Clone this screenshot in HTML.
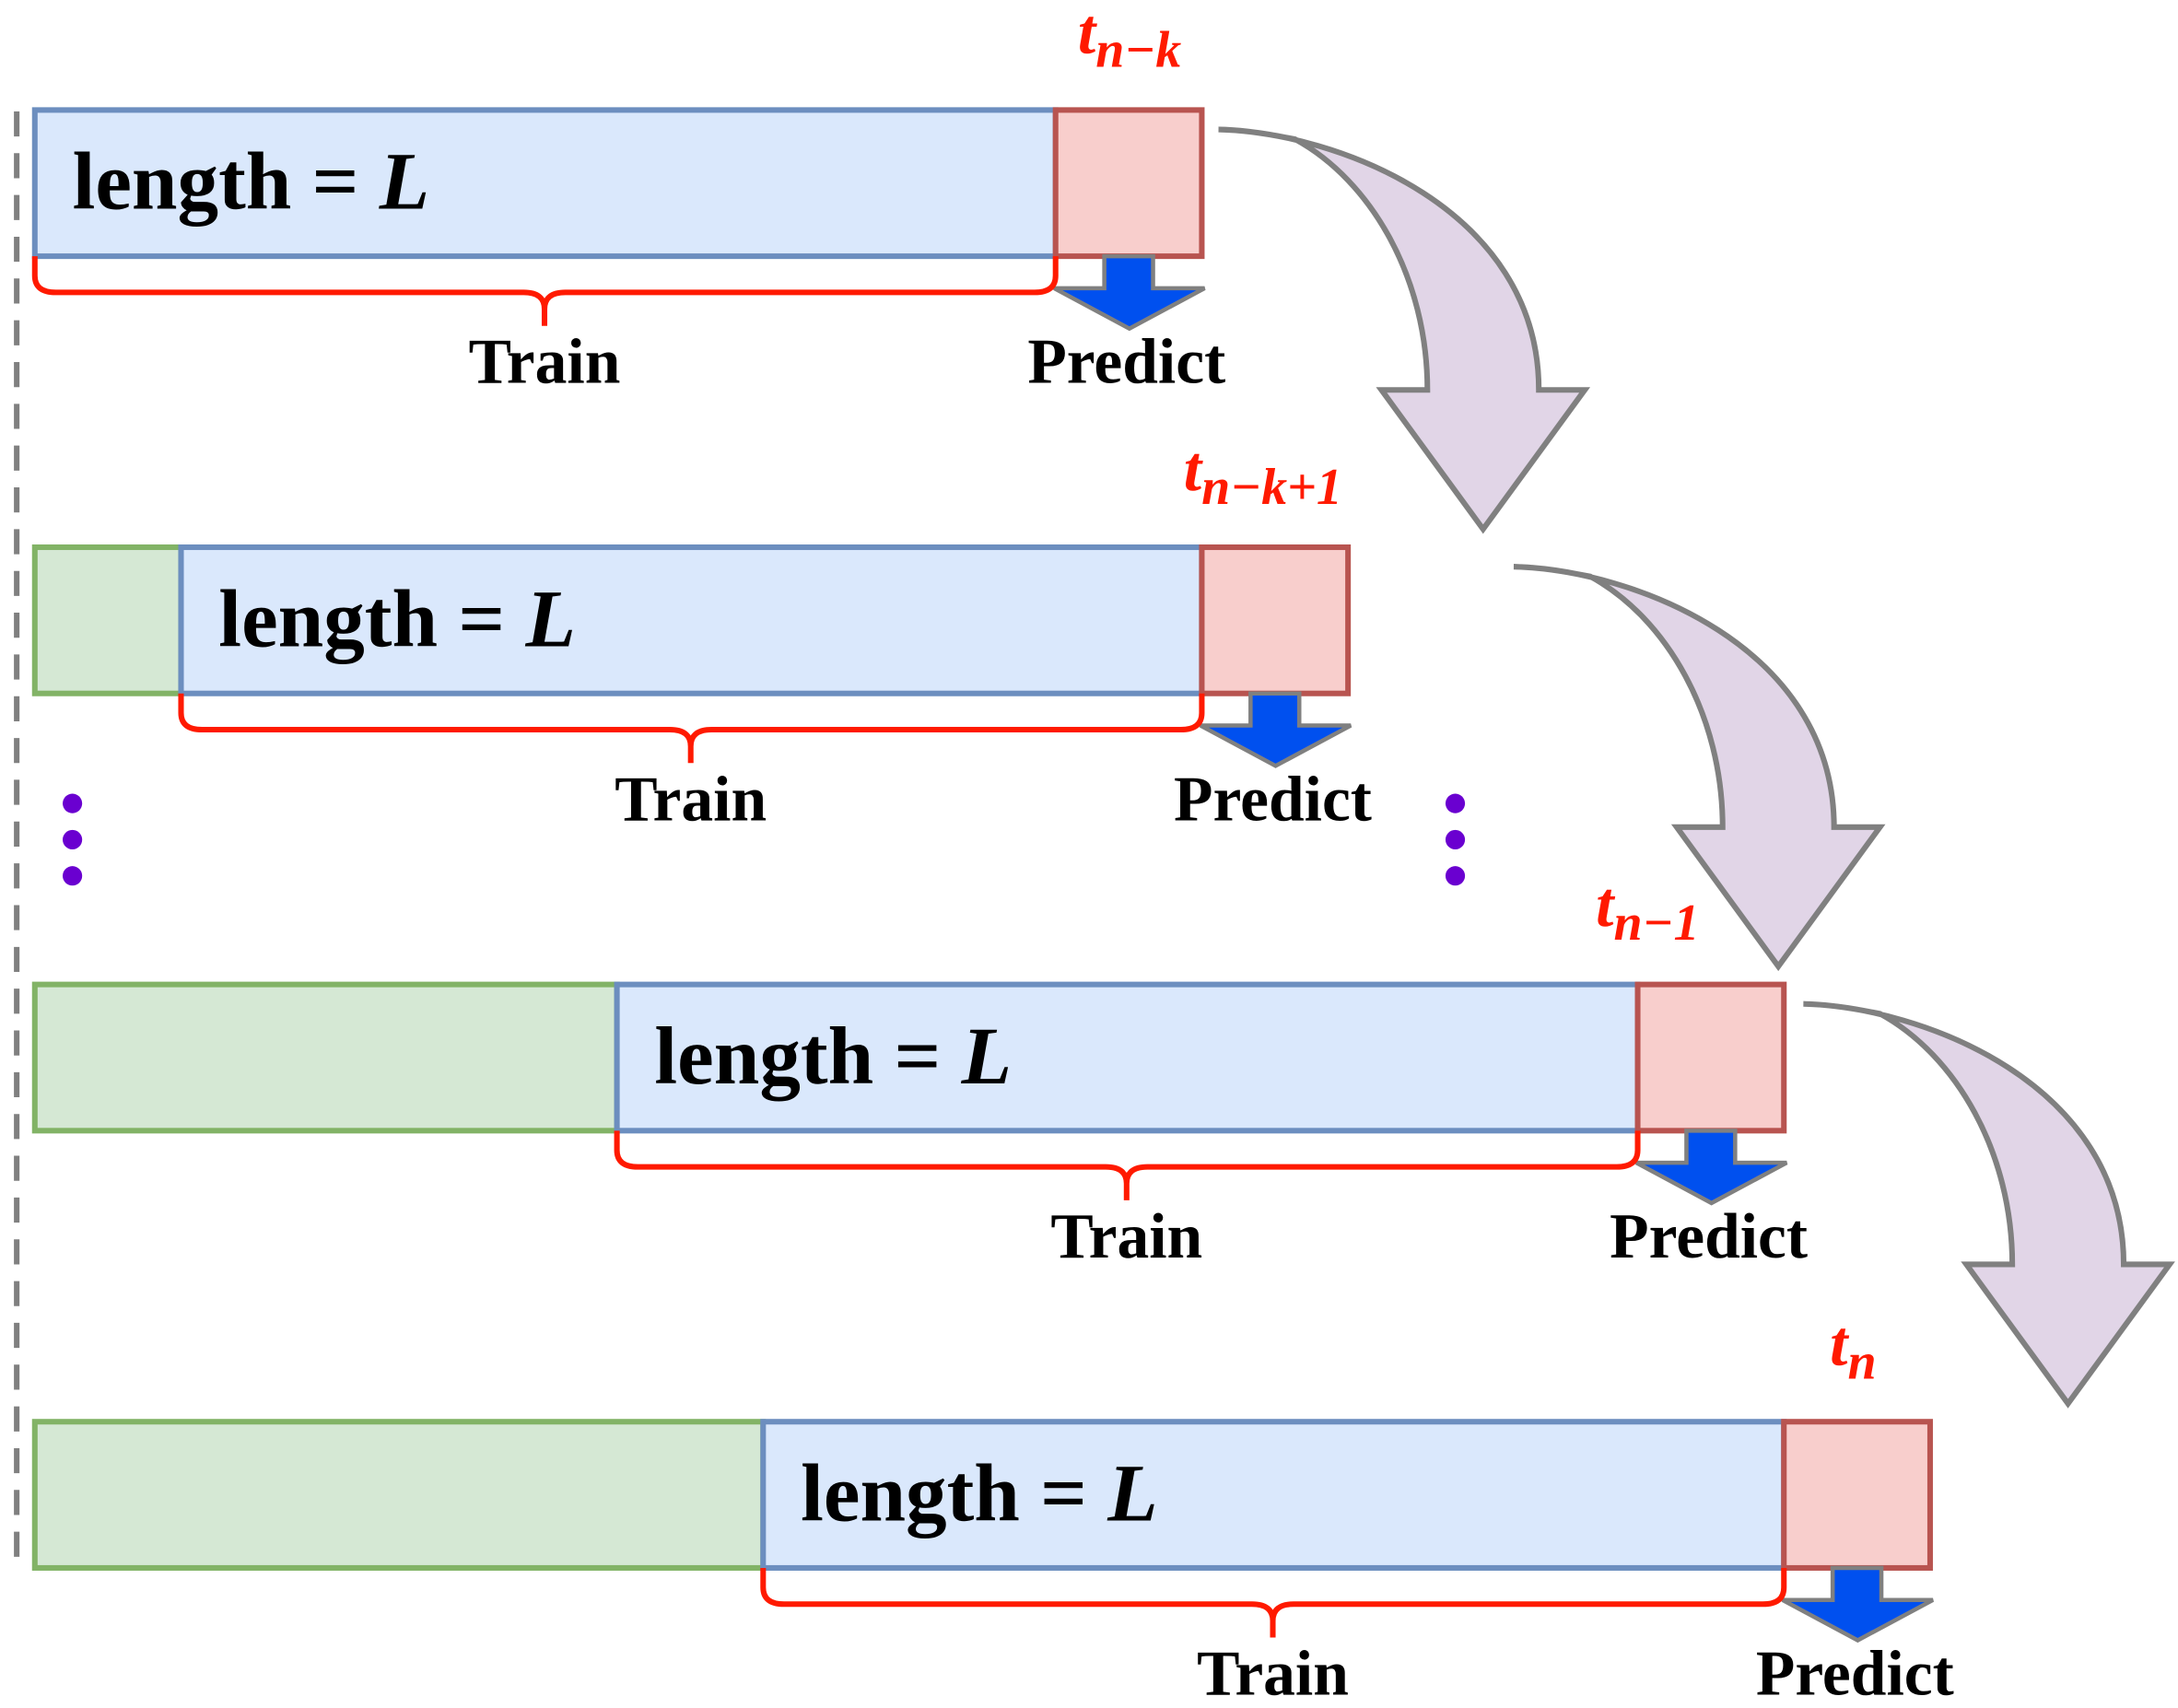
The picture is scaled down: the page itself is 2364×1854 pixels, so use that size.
<!DOCTYPE html>
<html><head><meta charset="utf-8"><style>
html,body{margin:0;padding:0;background:#fff;}
svg{display:block;}
text{font-family:"Liberation Serif",serif;font-weight:bold;}
</style></head><body>
<svg width="2364" height="1854" viewBox="0 0 1564 1226.6" preserveAspectRatio="none" xmlns="http://www.w3.org/2000/svg">
<defs>
<g id="cur">
<path d="M875,93 C960,95 1105,150 1105,280 L1138,280 L1065,380 L992,280 L1025,280 C1025,200 985,130 930,100 C910,96 890,93 875,93 Z" fill="#e1d5e7" stroke="#808080" stroke-width="4" stroke-linejoin="miter"/>
</g>
<g id="pa">
<path d="M793,184 L828,184 L828,207 L865,207 L811,236 L757,207 L793,207 Z" fill="#0050ef" stroke="#808080" stroke-width="3"/>
</g>
<g id="row">
<rect x="25" y="79" width="733" height="105" fill="#dae8fc" stroke="#6c8ebf" stroke-width="4"/>
<rect x="758" y="79" width="105" height="105" fill="#f8cecc" stroke="#b85450" stroke-width="4"/>
<use href="#pa"/>
<path d="M25,184 L25,198 Q25,210 40,210 L376,210 Q391,210 391,222 L391,234 M391,222 Q391,210 406,210 L743,210 Q758,210 758,198 L758,184" fill="none" stroke="#ff1a00" stroke-width="4"/>
<text x="52" y="150" font-size="59">length = <tspan font-style="italic">L</tspan></text>
<text x="391" y="275" font-size="46" text-anchor="middle">Train</text>
<text x="809" y="275" font-size="46" text-anchor="middle">Predict</text>
</g>
</defs>
<line x1="12" y1="80" x2="12" y2="1125" stroke="#808080" stroke-width="4" stroke-dasharray="18,12"/>

<!-- Row 1 -->
<use href="#row"/>
<text x="774" y="38" font-size="46" fill="#ff1a00" font-style="italic">t<tspan font-size="37" dy="10">n−k</tspan></text>
<use href="#cur"/>

<!-- Row 2 -->
<rect x="25" y="393" width="105" height="105" fill="#d5e8d4" stroke="#82b366" stroke-width="4"/>
<g transform="translate(105,314)"><use href="#row"/></g>
<text x="850" y="352" font-size="46" fill="#ff1a00" font-style="italic">t<tspan font-size="37" dy="10">n−k+1</tspan></text>
<g transform="translate(212,314)"><use href="#cur"/></g>

<!-- dots -->
<g fill="#6a00d0">
<circle cx="52" cy="577" r="7"/><circle cx="52" cy="603" r="7"/><circle cx="52" cy="629" r="7"/>
<circle cx="1045" cy="577" r="7"/><circle cx="1045" cy="603" r="7"/><circle cx="1045" cy="629" r="7"/>
</g>

<!-- Row 3 -->
<rect x="25" y="707" width="418" height="105" fill="#d5e8d4" stroke="#82b366" stroke-width="4"/>
<g transform="translate(418,628)"><use href="#row"/></g>
<text x="1146" y="665" font-size="46" fill="#ff1a00" font-style="italic">t<tspan font-size="37" dy="10">n−1</tspan></text>
<g transform="translate(420,628)"><use href="#cur"/></g>

<!-- Row 4 -->
<rect x="25" y="1021" width="523" height="105" fill="#d5e8d4" stroke="#82b366" stroke-width="4"/>
<g transform="translate(523,942)"><use href="#row"/></g>
<text x="1314" y="980" font-size="46" fill="#ff1a00" font-style="italic">t<tspan font-size="37" dy="10">n</tspan></text>
</svg>
</body></html>
